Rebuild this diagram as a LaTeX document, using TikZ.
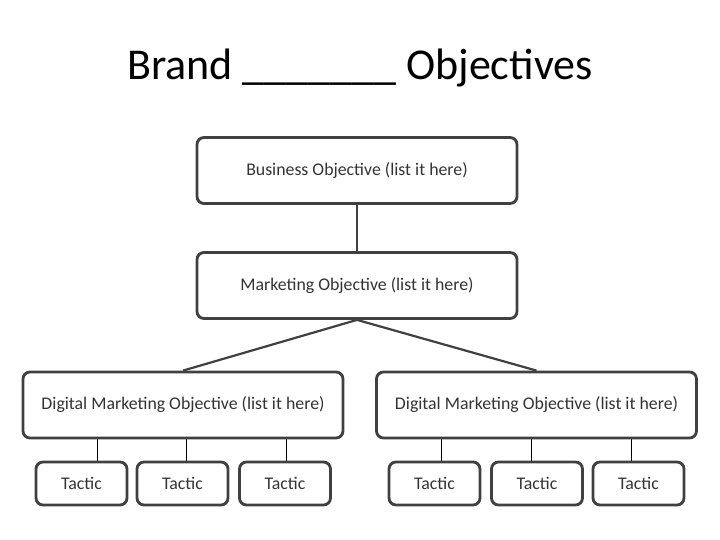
\documentclass[tikz,border=0pt]{standalone}
\usepackage{fontspec}
\setmainfont{Carlito}
\usetikzlibrary{positioning}
\usepackage{xcolor}
\definecolor{boxgray}{HTML}{404040}
\definecolor{textgray}{HTML}{333333}

\begin{document}
\begin{tikzpicture}[
  x=1pt, y=-1pt,
  box/.style={draw=boxgray, line width=2.8pt, rounded corners=7pt,
    text=textgray, font=\fontsize{17.8}{21}\selectfont,
    minimum width=320pt, minimum height=66pt, inner sep=0pt},
  tacticbox/.style={box, minimum width=91pt, minimum height=43pt},
  link/.style={draw=boxgray, line width=2.2pt},
  tacticlink/.style={draw=black, line width=1pt}
]
\useasboundingbox (0,0) rectangle (720,540);
\node[font=\fontsize{44}{50}\selectfont] (title) at (360,68) {Brand \_\_\_\_\_\_\_ Objectives};

\node[box] (business) at (357,170.5) {Business Objective (list it here)};
\node[box] (marketing) at (357,285.5) {Marketing Objective (list it here)};
\node[box] (digitalL) at (183,405) {Digital Marketing Objective (list it here)};
\node[box] (digitalR) at (536.5,405) {Digital Marketing Objective (list it here)};

% tactics, left group
\node[tacticbox] (tacL1) at (81.5,483.5) {Tactic};
\node[tacticbox] (tacL2) at (182.5,483.5) {Tactic};
\node[tacticbox] (tacL3) at (285,483.5) {Tactic};
% tactics, right group
\node[tacticbox] (tacR1) at (434.5,483.5) {Tactic};
\node[tacticbox] (tacR2) at (537,483.5) {Tactic};
\node[tacticbox] (tacR3) at (638.5,483.5) {Tactic};

\draw[link] (business) -- (marketing);
\draw[link] (marketing.south) -- (digitalL.north);
\draw[link] (marketing.south) -- (digitalR.north);

\draw[tacticlink] ([xshift=15.5pt]tacL1.north) -- ([xshift=15.5pt]tacL1.north |- digitalL.south);
\draw[tacticlink] ([xshift=3.5pt]tacL2.north) -- ([xshift=3.5pt]tacL2.north |- digitalL.south);
\draw[tacticlink] ([xshift=1pt]tacL3.north) -- ([xshift=1pt]tacL3.north |- digitalL.south);
\draw[tacticlink] ([xshift=6.5pt]tacR1.north) -- ([xshift=6.5pt]tacR1.north |- digitalR.south);
\draw[tacticlink] ([xshift=-6pt]tacR2.north) -- ([xshift=-6pt]tacR2.north |- digitalR.south);
\draw[tacticlink] ([xshift=-7.5pt]tacR3.north) -- ([xshift=-7.5pt]tacR3.north |- digitalR.south);
\end{tikzpicture}
\end{document}
